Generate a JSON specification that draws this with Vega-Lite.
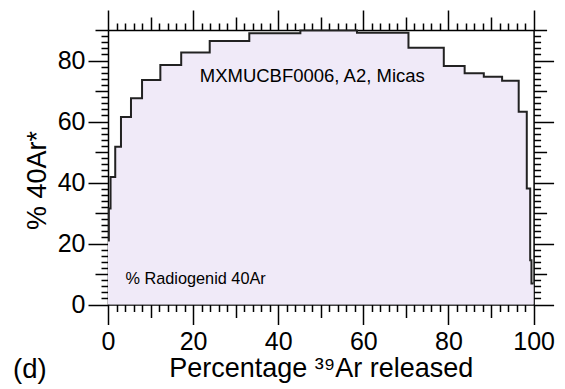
{
  "$schema": "https://vega.github.io/schema/vega-lite/v6.json",
  "width": 425.6,
  "height": 274.5,
  "autosize": "none",
  "padding": {"left": 108, "top": 30, "right": 31, "bottom": 84.5},
  "background": "white",
  "title": {"text": "(d)", "orient": "bottom", "anchor": "start", "frame": "group", "dx": -95, "dy": -29, "fontSize": 27.5, "font": "Liberation Sans", "fontWeight": "normal", "color": "black"},
  "config": {
    "view": {"stroke": null},
    "axis": {"grid": false, "domainColor": "black", "tickColor": "black", "labelColor": "black", "titleColor": "black", "labelFont": "Liberation Sans", "titleFont": "Liberation Sans", "titleFontWeight": "normal", "domainWidth": 1.5, "tickWidth": 1.5, "labelOverlap": false, "labelFlush": false}
  },
  "datasets": {
    "steps": [
      {"released": 0, "radiogenic": 21},
      {"released": 0.2, "radiogenic": 31.5},
      {"released": 0.6, "radiogenic": 41.8},
      {"released": 1.7, "radiogenic": 51.7},
      {"released": 3.05, "radiogenic": 61.5},
      {"released": 5.4, "radiogenic": 67.6},
      {"released": 8.0, "radiogenic": 73.6},
      {"released": 12.3, "radiogenic": 78.5},
      {"released": 17.2, "radiogenic": 82.6},
      {"released": 23.9, "radiogenic": 86.4},
      {"released": 33.2, "radiogenic": 88.9},
      {"released": 45.2, "radiogenic": 89.8},
      {"released": 58.5, "radiogenic": 89.1},
      {"released": 70.6, "radiogenic": 84.2},
      {"released": 78.9, "radiogenic": 78.2},
      {"released": 83.8, "radiogenic": 75.8},
      {"released": 88.3, "radiogenic": 74.7},
      {"released": 92.6, "radiogenic": 73.4},
      {"released": 96.5, "radiogenic": 63.2},
      {"released": 98.4, "radiogenic": 38.0},
      {"released": 99.2, "radiogenic": 14.5},
      {"released": 99.5, "radiogenic": 6.9},
      {"released": 100, "radiogenic": 6.9}
    ]
  },
  "layer": [
    {
      "data": {"name": "steps"},
      "mark": {"type": "area", "interpolate": "step-after", "color": "#F0EAF8"},
      "encoding": {
        "x": {"field": "released", "type": "quantitative", "scale": {"domain": [0, 100], "nice": false, "zero": false},
          "axis": {"orient": "bottom", "title": "Percentage \u00b3\u2079Ar released", "titleFontSize": 27, "titlePadding": 1, "labelFontSize": 25, "labelPadding": 5,
            "values": [0,2,4,6,8,10,12,14,16,18,20,22,24,26,28,30,32,34,36,38,40,42,44,46,48,50,52,54,56,58,60,62,64,66,68,70,72,74,76,78,80,82,84,86,88,90,92,94,96,98,100],
            "labelExpr": "datum.value % 20 === 0 ? datum.label : ''",
            "tickSize": {"condition": [{"test": "datum.value % 20 === 0", "value": 20}, {"test": "datum.value % 10 === 0", "value": 13}], "value": 7}}},
        "y": {"field": "radiogenic", "type": "quantitative", "scale": {"domain": [0, 90], "nice": false},
          "axis": {"orient": "left", "title": "% 40Ar*", "titleFontSize": 27, "titlePadding": 6, "titleY": 150, "labelFontSize": 25, "labelPadding": 3,
            "values": [0,2,4,6,8,10,12,14,16,18,20,22,24,26,28,30,32,34,36,38,40,42,44,46,48,50,52,54,56,58,60,62,64,66,68,70,72,74,76,78,80,82,84,86,88,90],
            "labelExpr": "datum.value % 20 === 0 ? datum.label : ''",
            "tickSize": {"condition": [{"test": "datum.value % 20 === 0", "value": 20}, {"test": "datum.value % 10 === 0", "value": 13}], "value": 7}}}
      }
    },
    {
      "data": {"name": "steps"},
      "mark": {"type": "line", "interpolate": "step-after", "color": "#222222", "strokeWidth": 2},
      "encoding": {
        "x": {"field": "released", "type": "quantitative",
          "axis": {"orient": "top", "title": null, "labels": false,
            "values": [0,2,4,6,8,10,12,14,16,18,20,22,24,26,28,30,32,34,36,38,40,42,44,46,48,50,52,54,56,58,60,62,64,66,68,70,72,74,76,78,80,82,84,86,88,90,92,94,96,98,100],
            "tickSize": {"condition": [{"test": "datum.value % 20 === 0", "value": 20}, {"test": "datum.value % 10 === 0", "value": 13}], "value": 7}}},
        "y": {"field": "radiogenic", "type": "quantitative",
          "axis": {"orient": "right", "title": null, "labels": false,
            "values": [0,2,4,6,8,10,12,14,16,18,20,22,24,26,28,30,32,34,36,38,40,42,44,46,48,50,52,54,56,58,60,62,64,66,68,70,72,74,76,78,80,82,84,86,88,90],
            "tickSize": {"condition": [{"test": "datum.value % 20 === 0", "value": 20}, {"test": "datum.value % 10 === 0", "value": 13}], "value": 7}}}
      }
    },
    {
      "data": {"values": [{"released": 48, "radiogenic": 74.8, "note": "MXMUCBF0006, A2, Micas"}]},
      "mark": {"type": "text", "font": "Liberation Sans", "fontSize": 18.5, "color": "black", "align": "center", "baseline": "middle"},
      "encoding": {
        "x": {"field": "released", "type": "quantitative", "axis": null},
        "y": {"field": "radiogenic", "type": "quantitative", "axis": null},
        "text": {"field": "note"}
      }
    },
    {
      "data": {"values": [{"released": 4.1, "radiogenic": 8.2, "note": "% Radiogenid 40Ar"}]},
      "mark": {"type": "text", "font": "Liberation Sans", "fontSize": 16.3, "color": "black", "align": "left", "baseline": "middle"},
      "encoding": {
        "x": {"field": "released", "type": "quantitative", "axis": null},
        "y": {"field": "radiogenic", "type": "quantitative", "axis": null},
        "text": {"field": "note"}
      }
    }
  ],
  "resolve": {"axis": {"x": "independent", "y": "independent"}}
}
